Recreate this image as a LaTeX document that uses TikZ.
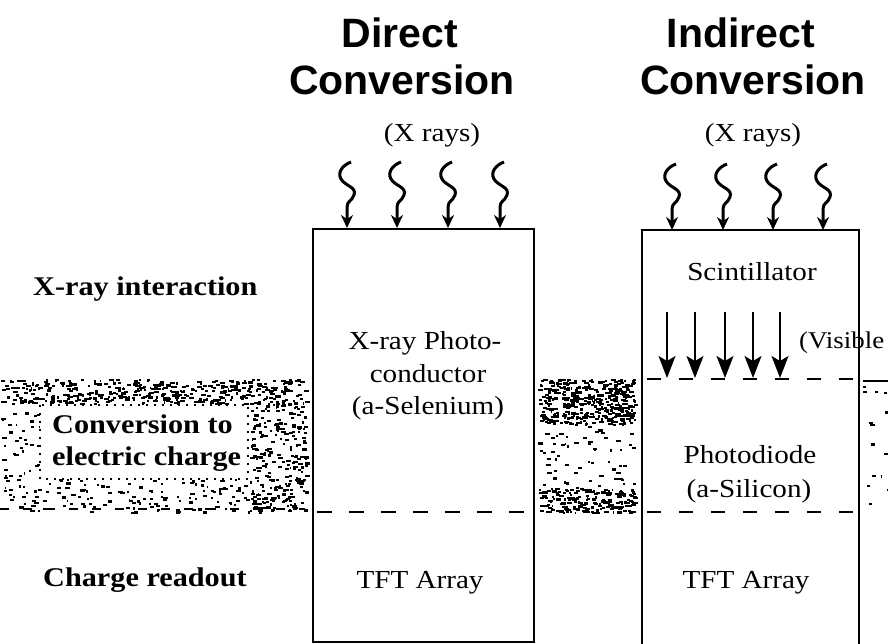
\documentclass[tikz,border=0pt]{standalone}
\usepackage{fontspec}
\setmainfont{Liberation Serif}[FakeStretch=1.12]
\newfontfamily\headfont{Liberation Sans}
\usetikzlibrary{arrows.meta}

% scatter n small black flecks over the rectangle (x0,y0) w x h
\newcommand\speckle[5]{%
  \foreach \i in {1,...,#5}{%
    \pgfmathsetmacro{\px}{#1+#3*rnd}%
    \pgfmathsetmacro{\py}{#2+#4*rnd}%
    \pgfmathsetmacro{\pw}{1.5+3.5*rnd}%
    \fill (\px,\py) rectangle ++(\pw,2.2);
  }%
}

\tikzset{
  heading/.style={font=\headfont\bfseries\fontsize{41}{45}\selectfont, inner sep=0pt, anchor=base},
  rowlabel/.style={font=\bfseries\fontsize{27}{30}\selectfont, inner sep=0pt, anchor=base west},
  boxtext/.style={font=\fontsize{26}{30}\selectfont, inner sep=0pt, anchor=base},
  layer/.style={line width=2.4pt},
  leftsplit/.style={line width=2pt, dash pattern=on 15pt off 17pt},
  rightsplit/.style={line width=2.8pt, dash pattern=on 14pt off 18pt},
  xray/.style={line width=3pt, -{Stealth[length=13pt,width=12pt]}},
  light/.style={line width=1.3pt, -{Stealth[length=22pt,width=17pt,inset=5pt]}},
}

\begin{document}
\begin{tikzpicture}[x=1pt,y=-1pt]
\useasboundingbox (0,0) rectangle (888,644);
\clip (0,0) rectangle (888,644);
\fill[white] (0,0) rectangle (888,644);

% halftone band behind the conversion stage
\pgfmathsetseed{4711}
\speckle{0}{379}{305}{24}{420}
\speckle{250}{400}{56}{110}{230}
\speckle{0}{400}{40}{80}{40}
\speckle{0}{478}{305}{34}{170}
\speckle{538}{379}{96}{45}{420}
\speckle{538}{424}{96}{64}{60}
\speckle{538}{488}{96}{24}{200}
\speckle{862}{384}{26}{128}{14}

% label panel inside the band
\fill[white] (40,405) rectangle (248,479);
\draw[line width=1.6pt, dash pattern=on 2pt off 6pt] (40,405) rectangle (248,479);
\draw[line width=1.8pt, dash pattern=on 9pt off 14pt] (0,509) -- (305,509);

% headings
\node[heading] (dtitle1) at (400,48) {Direct};
\node[heading] (dtitle2) at (402,95) {Conversion};
\node[heading] (ititle1) at (741,48) {Indirect};
\node[heading] (ititle2) at (753,95) {Conversion};
\node[boxtext] (dxr) at (432,142) {(X rays)};
\node[boxtext] (ixr) at (753,142) {(X rays)};

% row labels
\node[rowlabel] (row1) at (33,295) {X-ray interaction};
\node[rowlabel] (row2a) at (52,433) {Conversion to};
\node[rowlabel] (row2b) at (52,465) {electric charge};
\node[rowlabel] (row3) at (43,586) {Charge readout};

% direct conversion stack
\draw[layer] (313,229) rectangle (534,642);
\draw[leftsplit] (317,512) -- (534,512);
\node[boxtext] (pc1) at (425,349) {X-ray Photo-};
\node[boxtext] (pc2) at (428,382) {conductor};
\node[boxtext] (pc3) at (428,414) {(a-Selenium)};
\node[boxtext] (dtft) at (420,588) {TFT Array};

% indirect conversion stack
\draw[layer] (642,230) rectangle (859,660);
\draw[rightsplit] (647,379) -- (858,379);
\draw[rightsplit] (647,512) -- (858,512);
\draw[line width=1.6pt] (863,381) -- (888,381);
\node[boxtext] (scint) at (752,280) {Scintillator};
\node[boxtext, anchor=base west, font=\fontsize{24}{28}\selectfont] (vis) at (799,348) {(Visible};
\node[boxtext] (pd1) at (750,463) {Photodiode};
\node[boxtext] (pd2) at (749,497) {(a-Silicon)};
\node[boxtext] (itft) at (746,588) {TFT Array};

% incoming x rays
\foreach \x [count=\k] in {347,397,448,500} {
  \coordinate (dtip\k) at (\x,228);
  \draw[xray] (\x+4,162) .. controls (\x-4,165) and (\x-10,172) .. (\x-6,179)
    .. controls (\x-2,186) and (\x+10,187) .. (\x+7,195)
    .. controls (\x+5,201) and (\x,201) .. (\x,207) -- (dtip\k);
}
\foreach \x [count=\k] in {672,723,773,823} {
  \coordinate (itip\k) at (\x,230);
  \draw[xray] (\x+4,164) .. controls (\x-4,167) and (\x-10,174) .. (\x-6,181)
    .. controls (\x-2,188) and (\x+10,189) .. (\x+7,197)
    .. controls (\x+5,203) and (\x,203) .. (\x,209) -- (itip\k);
}

% visible light from scintillator to photodiode
\foreach \x [count=\k] in {667,695,725,753,780} {
  \coordinate (ltop\k) at (\x,312);
  \coordinate (lend\k) at (\x,378);
  \draw[light] (ltop\k) -- (lend\k);
}
\end{tikzpicture}
\end{document}
